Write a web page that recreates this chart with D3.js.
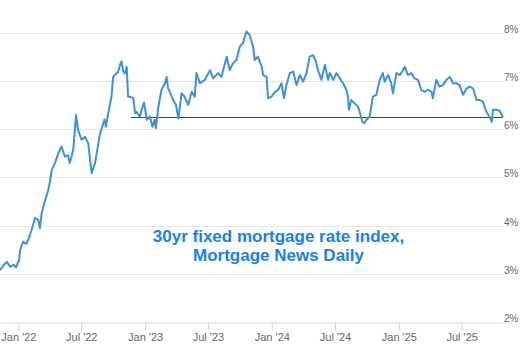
<!DOCTYPE html>
<html>
<head>
<meta charset="utf-8">
<script src="https://cdn.jsdelivr.net/npm/d3@7/dist/d3.min.js"></script>
<style>
  html, body { margin: 0; padding: 0; background: #fff; }
  svg { display: block; }
</style>
</head>
<body>
<svg id="chart" width="525" height="347"></svg>
<script>
// 30-year fixed rate index, observation dates and rates (%)
const dates = [
  "2021-11-09","2021-11-19","2021-11-29","2021-12-08","2021-12-18","2021-12-25",
  "2022-01-03","2022-01-06","2022-01-15","2022-01-23","2022-01-29","2022-02-08",
  "2022-02-18","2022-02-27","2022-03-04","2022-03-09","2022-03-18","2022-03-28",
  "2022-04-02","2022-04-07","2022-04-16","2022-04-26","2022-05-05","2022-05-15",
  "2022-05-24","2022-05-29","2022-06-08","2022-06-16","2022-06-22","2022-07-02",
  "2022-07-12","2022-07-21","2022-07-31","2022-08-10","2022-08-24","2022-09-06",
  "2022-09-10","2022-09-17","2022-09-26","2022-10-01","2022-10-11","2022-10-15",
  "2022-10-22","2022-10-25","2022-10-30","2022-11-04","2022-11-09","2022-11-13",
  "2022-11-18","2022-11-28","2022-12-03","2022-12-07","2022-12-17","2022-12-22",
  "2022-12-29","2023-01-06","2023-01-15","2023-01-22","2023-01-29","2023-02-01",
  "2023-02-08","2023-02-17","2023-02-27","2023-03-04","2023-03-08","2023-03-13",
  "2023-03-23","2023-03-31","2023-04-07","2023-04-16","2023-04-25","2023-05-05",
  "2023-05-15","2023-05-24","2023-05-29","2023-06-08","2023-06-22","2023-07-07",
  "2023-07-16","2023-07-30","2023-08-09","2023-08-24","2023-09-02","2023-09-11",
  "2023-09-21","2023-10-01","2023-10-10","2023-10-20","2023-10-29","2023-11-08",
  "2023-11-13","2023-11-22","2023-12-03","2023-12-07","2023-12-17","2023-12-21",
  "2023-12-31","2024-01-10","2024-01-19","2024-01-29","2024-02-05","2024-02-12",
  "2024-02-22","2024-03-03","2024-03-12","2024-03-22","2024-03-31","2024-04-10",
  "2024-04-19","2024-04-29","2024-05-07","2024-05-13","2024-05-23","2024-06-02",
  "2024-06-11","2024-06-16","2024-06-26","2024-07-05","2024-07-15","2024-07-24",
  "2024-08-03","2024-08-08","2024-08-10","2024-08-17","2024-08-27","2024-09-06",
  "2024-09-10","2024-09-18","2024-09-23","2024-09-29","2024-10-09","2024-10-18",
  "2024-10-28","2024-11-07","2024-11-16","2024-11-21","2024-12-01","2024-12-10",
  "2024-12-15","2024-12-25","2025-01-04","2025-01-13","2025-01-18","2025-01-27",
  "2025-02-06","2025-02-15","2025-02-25","2025-03-07","2025-03-16","2025-03-26",
  "2025-04-05","2025-04-09","2025-04-19","2025-04-28","2025-05-08","2025-05-18",
  "2025-05-28","2025-06-06","2025-06-16","2025-06-25","2025-07-05","2025-07-15",
  "2025-07-24","2025-08-03","2025-08-13","2025-08-22","2025-08-31","2025-09-10",
  "2025-09-19","2025-09-26","2025-09-29","2025-10-09","2025-10-18","2025-10-28"
];
const rates = [
  3.08,3.18,3.25,3.15,3.19,3.14,
  3.29,3.50,3.67,3.62,3.70,3.91,
  4.16,4.12,3.95,4.26,4.50,4.74,
  4.91,5.15,5.29,5.50,5.64,5.43,
  5.46,5.30,5.57,6.29,5.98,5.78,
  5.84,5.71,5.09,5.30,5.90,6.20,
  6.05,6.33,6.67,7.08,7.16,7.18,
  7.36,7.40,7.19,7.15,7.29,6.67,
  6.67,6.64,6.33,6.36,6.26,6.40,
  6.55,6.19,6.26,6.05,6.19,6.02,
  6.45,6.81,6.95,7.08,6.85,6.77,
  6.60,6.50,6.22,6.74,6.67,6.50,
  6.77,6.67,7.16,6.95,7.02,7.22,
  7.05,7.16,7.08,7.50,7.22,7.36,
  7.43,7.71,7.78,8.02,7.95,7.71,
  7.43,7.50,7.29,7.12,7.08,6.64,
  6.67,6.77,6.81,6.95,6.64,6.91,
  7.16,7.19,6.91,7.12,6.98,7.16,
  7.50,7.53,7.40,7.22,7.02,7.33,
  7.02,7.16,7.02,7.16,7.05,6.95,
  6.81,6.64,6.40,6.60,6.53,6.46,
  6.36,6.15,6.12,6.19,6.26,6.67,
  6.71,7.02,7.16,6.98,7.12,6.95,
  6.74,7.16,7.12,7.22,7.29,7.12,
  7.16,7.05,7.02,6.81,6.77,6.81,
  6.77,6.64,7.02,6.88,6.91,7.02,
  7.08,6.95,6.95,6.91,6.71,6.84,
  6.88,6.84,6.60,6.60,6.57,6.36,
  6.26,6.15,6.40,6.40,6.38,6.24
];
// Reference level drawn across the later part of the series
const refStart = "2022-11-21";
const refRate = 6.24;
// Axis ticks
const yTicks = [2, 3, 4, 5, 6, 7, 8];
const xTicks = ["2022-01-01","2022-07-01","2023-01-01","2023-07-01",
                "2024-01-01","2024-07-01","2025-01-01","2025-07-01"];
const titleLines = ["30yr fixed mortgage rate index,", "Mortgage News Daily"];

const parse = d3.utcParse("%Y-%m-%d");
const series = dates.map((d, i) => ({ date: parse(d), rate: rates[i] }));

const svg = d3.select("#chart");
const W = 525, H = 347;
const plot = { left: 0, right: 503, top: 10, bottom: 322.3 };

svg.append("rect").attr("width", W).attr("height", H).attr("fill", "#fff");

const x = d3.scaleUtc()
  .domain(d3.extent(series, d => d.date))
  .range([plot.left, plot.right]);
const y = d3.scaleLinear()
  .domain([2, 8])
  .range([plot.bottom, 32.5]);

// horizontal grid
svg.append("g")
  .selectAll("line")
  .data(yTicks.filter(t => t !== 2))
  .join("line")
  .attr("x1", plot.left).attr("x2", plot.right)
  .attr("y1", d => Math.round(y(d)) + 0.5).attr("y2", d => Math.round(y(d)) + 0.5)
  .attr("stroke", "#e6e6e6").attr("stroke-width", 1);

// y labels on the right
svg.append("g")
  .selectAll("text")
  .data(yTicks)
  .join("text")
  .attr("x", plot.right + 1)
  .attr("y", d => Math.round(y(d)) - 0.5)
  .attr("font-family", "'Liberation Sans', Arial, sans-serif")
  .attr("font-size", 10)
  .attr("fill", "#666")
  .text(d => d + "%");

// x axis
const xAxis = d3.axisBottom(x)
  .tickValues(xTicks.map(parse))
  .tickFormat(d3.utcFormat("%b '%y"))
  .tickSize(8)
  .tickPadding(3)
  .tickSizeOuter(0);
const gx = svg.append("g")
  .attr("transform", `translate(0,${Math.round(plot.bottom) + 0.5})`)
  .call(xAxis);
gx.select(".domain").attr("stroke", "#ccd6eb");
gx.selectAll(".tick line").attr("stroke", "#ccd6eb");
gx.selectAll(".tick text")
  .attr("font-family", "'Liberation Sans', Arial, sans-serif")
  .attr("font-size", 11)
  .attr("fill", "#666");

// reference level
svg.append("line")
  .attr("x1", x(parse(refStart))).attr("x2", plot.right)
  .attr("y1", y(refRate)).attr("y2", y(refRate))
  .attr("stroke", "#444").attr("stroke-width", 1);

// rate line
const line = d3.line()
  .x(d => x(d.date))
  .y(d => y(d.rate));
svg.append("path")
  .datum(series)
  .attr("d", line)
  .attr("fill", "none")
  .attr("stroke", "#3d8fe3")
  .attr("stroke-width", 2)
  .attr("stroke-linejoin", "round");

// caption
svg.append("g")
  .selectAll("text")
  .data(titleLines)
  .join("text")
  .attr("x", 278.5)
  .attr("y", (d, i) => 241.5 + i * 19)
  .attr("text-anchor", "middle")
  .attr("font-family", "'Liberation Sans', Arial, sans-serif")
  .attr("font-weight", "bold")
  .attr("font-size", 17)
  .attr("fill", "#1580f2")
  .text(d => d);
</script>
</body>
</html>
